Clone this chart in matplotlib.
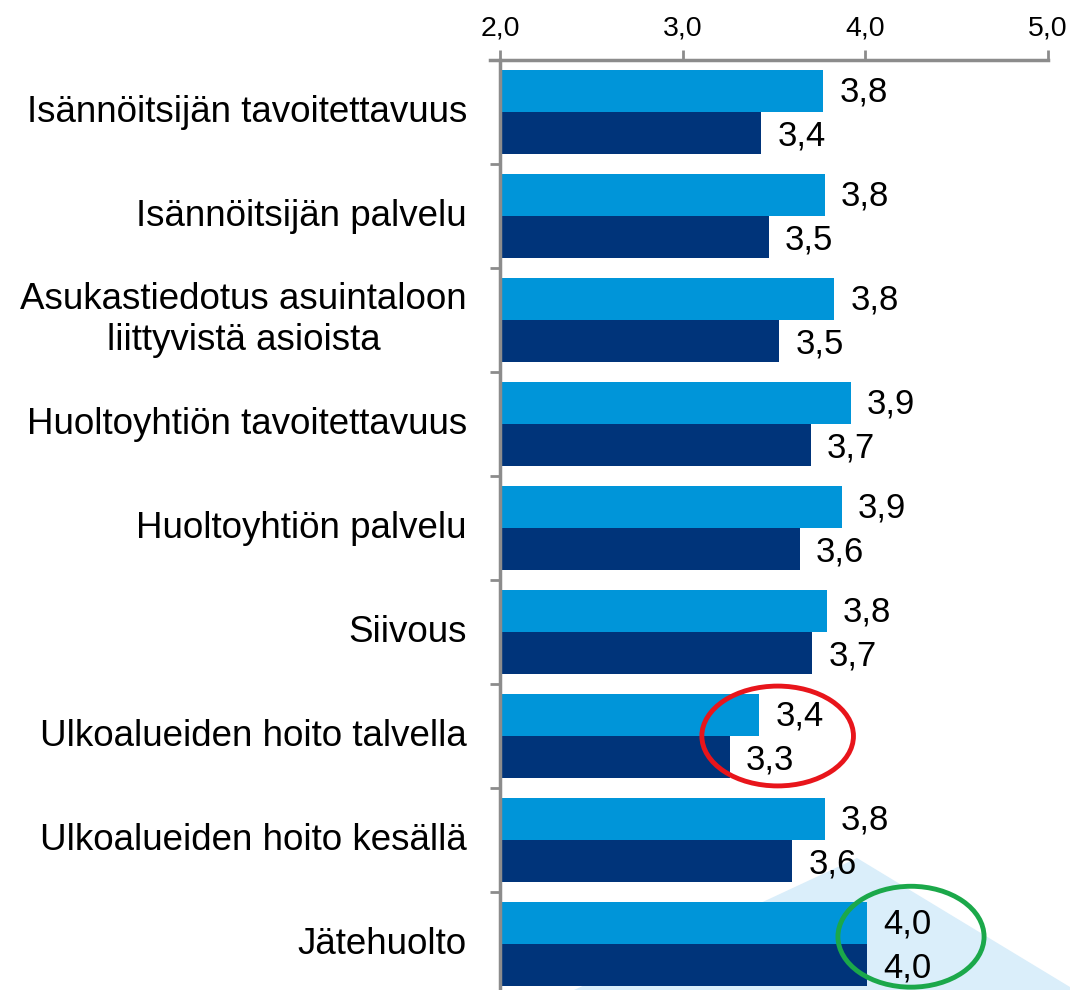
import numpy as np
import matplotlib
matplotlib.use("Agg")
import matplotlib.pyplot as plt
from matplotlib.patches import Ellipse, Polygon

plt.rcParams['font.family'] = ['Liberation Sans', 'DejaVu Sans']

# data
categories = ['Isännöitsijän tavoitettavuus', 'Isännöitsijän palvelu',
              'Asukastiedotus asuintaloon\nliittyvistä asioista',
              'Huoltoyhtiön tavoitettavuus', 'Huoltoyhtiön palvelu', 'Siivous',
              'Ulkoalueiden hoito talvella', 'Ulkoalueiden hoito kesällä',
              'Jätehuolto']
series_a = [3.77, 3.78, 3.83, 3.92, 3.87, 3.79, 3.42, 3.78, 4.01]
series_b = [3.43, 3.47, 3.53, 3.70, 3.64, 3.71, 3.26, 3.60, 4.01]
xticks = [2.0, 3.0, 4.0, 5.0]

light = '#0095D9'
dark = '#00347A'
grey = '#8C8C8C'

fig = plt.figure(figsize=(10.7, 9.9), dpi=100)

# decorative light triangle in background (figure pixels)
tri = Polygon([(574, 0), (857, 132), (1070, 3), (1070, 0)], closed=True,
              transform=None, facecolor='#DAEEFA', edgecolor='none', zorder=-5)
fig.patches.append(tri)

ax = fig.add_axes([500 / 1070, -6 / 990, 548 / 1070, (990 - 60 + 6) / 990])
ax.patch.set_alpha(0)

n = len(categories)
y = np.arange(n)
h = 0.4
ax.barh(y - h / 2, [v - 2 for v in series_a], left=2, height=h, color=light, zorder=2)
ax.barh(y + h / 2, [v - 2 for v in series_b], left=2, height=h, color=dark, zorder=2)

ax.set_xlim(2, 5)
ax.set_ylim(n - 0.5, -0.5)

# value labels
for i in range(n):
    ax.annotate(f'{series_a[i]:.1f}'.replace('.', ','), (series_a[i], i - h / 2),
                xytext=(16, -1), textcoords='offset pixels',
                va='center', ha='left', fontsize=25, zorder=3)
    ax.annotate(f'{series_b[i]:.1f}'.replace('.', ','), (series_b[i], i + h / 2),
                xytext=(16, -3), textcoords='offset pixels',
                va='center', ha='left', fontsize=25, zorder=3)

# category labels
ax.set_yticks(np.arange(n + 1) - 0.5)
ax.set_yticklabels([])
for i, c in enumerate(categories):
    ax.annotate(c, (2, i), xytext=(-33, 0), textcoords='offset pixels',
                ha='right', va='center', multialignment='center',
                fontsize=26.5, annotation_clip=False)

ax.xaxis.tick_top()
ax.set_xticks(xticks)
ax.set_xticklabels([f'{t:.1f}'.replace('.', ',') for t in xticks], fontsize=20.5)
ax.tick_params(axis='x', length=7, width=2, color=grey, pad=6)
ax.tick_params(axis='y', length=7, width=2, color=grey)

for s in ['right', 'bottom']:
    ax.spines[s].set_visible(False)
for s in ['top', 'left']:
    ax.spines[s].set_color(grey)
    ax.spines[s].set_linewidth(2.5)
ax.spines['top'].set_bounds(1.945, 5)

# highlight ellipses
ax.add_patch(Ellipse((3.52, 6.0), 0.83, 0.96, fill=False, edgecolor='#E8151B',
                     linewidth=3.5, zorder=4, clip_on=False))
ax.add_patch(Ellipse((4.25, 7.93), 0.80, 0.97, fill=False, edgecolor='#1BA84A',
                     linewidth=3.5, zorder=4, clip_on=False))

fig.savefig('out.png', dpi=100)
